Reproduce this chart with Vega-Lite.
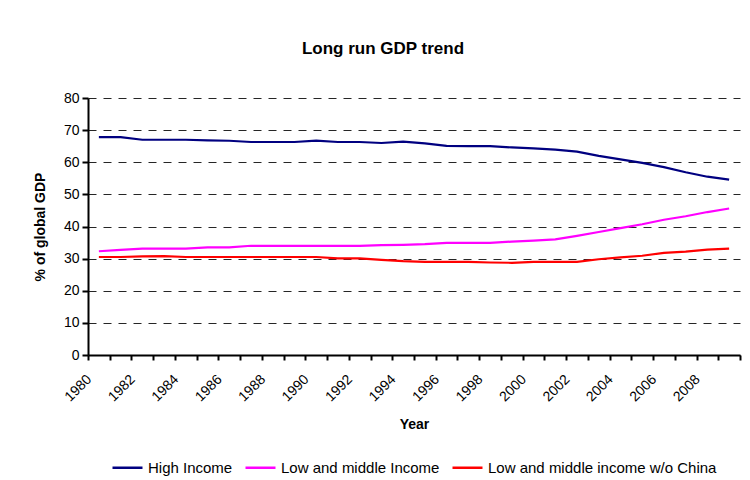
{
  "$schema": "https://vega.github.io/schema/vega-lite/v6.json",
  "width": 652,
  "height": 257,
  "autosize": "none",
  "padding": {"left": 88, "top": 98, "right": 10, "bottom": 125},
  "background": "white",
  "title": {"text": "Long run GDP trend", "font": "Liberation Sans", "fontSize": 17, "fontWeight": "bold", "color": "black", "dx": -31, "offset": 33},
  "datasets": {
    "gdp": [
      {"year": 1980, "high": 67.8, "lmi": 32.3, "lmi_nc": 30.5},
      {"year": 1981, "high": 67.8, "lmi": 32.7, "lmi_nc": 30.5},
      {"year": 1982, "high": 67.0, "lmi": 33.1, "lmi_nc": 30.7},
      {"year": 1983, "high": 67.0, "lmi": 33.1, "lmi_nc": 30.8},
      {"year": 1984, "high": 67.0, "lmi": 33.1, "lmi_nc": 30.5},
      {"year": 1985, "high": 66.8, "lmi": 33.5, "lmi_nc": 30.5},
      {"year": 1986, "high": 66.7, "lmi": 33.5, "lmi_nc": 30.5},
      {"year": 1987, "high": 66.3, "lmi": 34.0, "lmi_nc": 30.5},
      {"year": 1988, "high": 66.3, "lmi": 34.0, "lmi_nc": 30.5},
      {"year": 1989, "high": 66.3, "lmi": 34.0, "lmi_nc": 30.5},
      {"year": 1990, "high": 66.7, "lmi": 34.0, "lmi_nc": 30.5},
      {"year": 1991, "high": 66.3, "lmi": 34.0, "lmi_nc": 30.1},
      {"year": 1992, "high": 66.3, "lmi": 34.0, "lmi_nc": 30.1},
      {"year": 1993, "high": 66.0, "lmi": 34.2, "lmi_nc": 29.6},
      {"year": 1994, "high": 66.4, "lmi": 34.3, "lmi_nc": 29.2},
      {"year": 1995, "high": 65.9, "lmi": 34.5, "lmi_nc": 29.0},
      {"year": 1996, "high": 65.1, "lmi": 34.9, "lmi_nc": 29.0},
      {"year": 1997, "high": 65.0, "lmi": 34.9, "lmi_nc": 29.0},
      {"year": 1998, "high": 65.0, "lmi": 34.9, "lmi_nc": 28.8},
      {"year": 1999, "high": 64.6, "lmi": 35.3, "lmi_nc": 28.7},
      {"year": 2000, "high": 64.3, "lmi": 35.6, "lmi_nc": 29.0},
      {"year": 2001, "high": 63.9, "lmi": 36.0, "lmi_nc": 29.0},
      {"year": 2002, "high": 63.3, "lmi": 37.1, "lmi_nc": 29.0},
      {"year": 2003, "high": 62.0, "lmi": 38.3, "lmi_nc": 29.8},
      {"year": 2004, "high": 60.9, "lmi": 39.5, "lmi_nc": 30.4},
      {"year": 2005, "high": 59.8, "lmi": 40.7, "lmi_nc": 30.9},
      {"year": 2006, "high": 58.5, "lmi": 42.1, "lmi_nc": 31.8},
      {"year": 2007, "high": 56.9, "lmi": 43.2, "lmi_nc": 32.2},
      {"year": 2008, "high": 55.5, "lmi": 44.5, "lmi_nc": 32.8},
      {"year": 2009, "high": 54.6, "lmi": 45.6, "lmi_nc": 33.1}
    ]
  },
  "data": {"name": "gdp"},
  "transform": [
    {"fold": ["high", "lmi", "lmi_nc"], "as": ["key", "value"]},
    {"lookup": "key", "from": {"data": {"values": [
      {"key": "high", "series": "High Income"},
      {"key": "lmi", "series": "Low and middle Income"},
      {"key": "lmi_nc", "series": "Low and middle income w/o China"}
    ]}, "key": "key", "fields": ["series"]}}
  ],
  "mark": {"type": "line", "strokeWidth": 2.2},
  "encoding": {
    "x": {
      "field": "year", "type": "quantitative",
      "scale": {"domain": [1979.5, 2009.5], "nice": false, "zero": false},
      "axis": {
        "title": "Year",
        "values": [1979.5, 1980.5, 1981.5, 1982.5, 1983.5, 1984.5, 1985.5, 1986.5, 1987.5, 1988.5, 1989.5, 1990.5, 1991.5, 1992.5, 1993.5, 1994.5, 1995.5, 1996.5, 1997.5, 1998.5, 1999.5, 2000.5, 2001.5, 2002.5, 2003.5, 2004.5, 2005.5, 2006.5, 2007.5, 2008.5, 2009.5],
        "labelExpr": "(datum.value + 0.5) % 2 == 0 && datum.value < 2009 ? format(datum.value + 0.5, 'd') : ''",
        "labelOffset": -4,
        "labelAngle": -45,
        "labelAlign": "right",
        "labelBaseline": "top",
        "labelPadding": 12,
        "labelFontSize": 14,
        "labelFlush": false,
        "labelOverlap": false,
        "grid": false,
        "titlePadding": 14
      }
    },
    "y": {
      "field": "value", "type": "quantitative",
      "scale": {"domain": [0, 80], "nice": false},
      "axis": {
        "title": "% of global GDP",
        "values": [0, 10, 20, 30, 40, 50, 60, 70, 80],
        "grid": true,
        "gridColor": "black",
        "gridDash": [8, 7],
        "gridWidth": 1,
        "gridOpacity": 0.85,
        "titlePadding": 16
      }
    },
    "color": {
      "field": "series", "type": "nominal",
      "scale": {
        "domain": ["High Income", "Low and middle Income", "Low and middle income w/o China"],
        "range": ["#000080", "#FF00FF", "#FF0000"]
      },
      "legend": {
        "title": null,
        "orient": "bottom",
        "direction": "horizontal",
        "symbolType": "stroke",
        "symbolSize": 900,
        "symbolStrokeWidth": 2.5,
        "labelFontSize": 15,
        "labelFont": "Liberation Sans",
        "labelColor": "black",
        "labelLimit": 0,
        "columnPadding": 7,
        "symbolOffset": 0,
        "labelOffset": 4,
        "offset": 19
      }
    }
  },
  "config": {
    "view": {"stroke": null},
    "axis": {
      "domainColor": "black",
      "domainWidth": 2,
      "tickColor": "black",
      "tickWidth": 2,
      "tickSize": 5,
      "labelFont": "Liberation Sans",
      "labelFontSize": 12,
      "labelColor": "black",
      "titleFont": "Liberation Sans",
      "titleFontSize": 14,
      "titleFontWeight": "bold",
      "titleColor": "black"
    },
    "axisY": {"labelFontSize": 14, "tickSize": 6, "labelPadding": 3},
    "legend": {"layout": {"bottom": {"anchor": "middle"}}}
  }
}
